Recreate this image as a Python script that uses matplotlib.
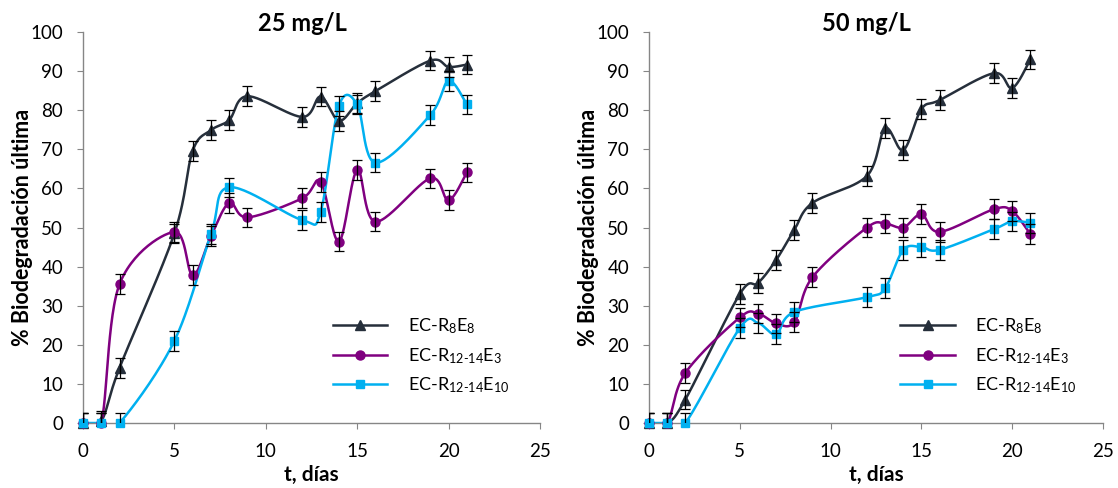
import numpy as np
import matplotlib
matplotlib.use("Agg")
import matplotlib.pyplot as plt
from matplotlib.lines import Line2D

plt.rcParams["font.family"] = ["Lato", "DejaVu Sans"]
plt.rcParams["mathtext.fontset"] = "custom"
plt.rcParams["mathtext.rm"] = "Lato"
plt.rcParams["mathtext.it"] = "Lato"
plt.rcParams["mathtext.bf"] = "Lato:bold"

# --- data ---
t_days = [0, 1, 2, 5, 6, 7, 8, 9, 12, 13, 14, 15, 16, 19, 20, 21]

# 25 mg/L
r8e8_25 = [0, 0.5, 14.1, 48.5, 69.6, 74.9, 77.5, 83.6, 78.3, 83.5, 77.3, 81.8, 84.9, 92.7, 91.1, 91.7]
e3_25 = [0, 0, 35.5, 48.9, 37.8, 47.8, 56.3, 52.6, 57.5, 61.7, 46.4, 64.7, 51.5, 62.6, 57.0, 64.1]
t_e10_25 = [0, 1, 2, 5, 7, 8, 12, 13, 14, 15, 16, 19, 20, 21]
e10_25 = [0, 0, 0, 21.0, 48.3, 60.3, 51.9, 54.0, 81.1, 81.5, 66.6, 78.8, 87.5, 81.5]

# 50 mg/L
r8e8_50 = [0, 0, 6.0, 33.0, 35.8, 41.7, 49.4, 56.3, 63.2, 75.4, 69.8, 80.3, 82.6, 89.5, 85.7, 93.0]
e3_50 = [0, 0, 12.8, 27.0, 28.0, 25.5, 25.8, 37.3, 50.0, 51.0, 50.0, 53.4, 48.9, 54.7, 54.2, 48.3]
t_e10_50 = [0, 1, 2, 5, 6, 7, 8, 12, 13, 14, 15, 16, 19, 20, 21]
e10_50 = [0, 0, 0, 24.3, 25.6, 22.7, 28.4, 32.2, 34.5, 44.3, 45.0, 44.3, 49.6, 51.6, 51.2]

err = 2.5

C_BLACK = "#262f3b"
C_PURPLE = "#800080"
C_CYAN = "#00b0f0"

labels = [r"EC-R$_{8}$E$_{8}$",
          r"EC-R$_{12\text{-}14}$E$_{3}$",
          r"EC-R$_{12\text{-}14}$E$_{10}$"]


def smooth(x, y, n=30):
    """Excel-style smoothed line (cardinal bezier through the points)."""
    pts = np.column_stack([np.asarray(x, float), np.asarray(y, float)])
    out = []
    t = np.linspace(0, 1, n)[:, None]
    for i in range(len(pts) - 1):
        p0 = pts[i - 1] if i > 0 else pts[i]
        p1 = pts[i]
        p2 = pts[i + 1]
        p3 = pts[i + 2] if i + 2 < len(pts) else pts[i + 1]
        c1 = p1 + (p2 - p0) / 6
        c2 = p2 - (p3 - p1) / 6
        out.append((1 - t) ** 3 * p1 + 3 * (1 - t) ** 2 * t * c1
                   + 3 * (1 - t) * t ** 2 * c2 + t ** 3 * p2)
    s = np.vstack(out)
    return s[:, 0], s[:, 1]


def draw_series(ax, x, y, color, marker, ms, skip=()):
    sx, sy = smooth(x, y)
    ax.plot(sx, sy, color=color, lw=1.8, zorder=2)
    keep = [i for i in range(len(x)) if x[i] not in skip]
    ax.plot([x[i] for i in keep], [y[i] for i in keep], ls="none", marker=marker,
            ms=ms, color=color, zorder=3, clip_on=False)
    ax.errorbar(x, y, yerr=err, fmt="none", ecolor="black", elinewidth=0.9,
                capsize=3.5, capthick=0.9, zorder=4)


def style_axes(ax, title):
    ax.set_xlim(0, 25)
    ax.set_ylim(0, 100)
    ax.set_xticks(range(0, 26, 5))
    ax.set_yticks(range(0, 101, 10))
    for s in ("top", "right"):
        ax.spines[s].set_visible(False)
    for s in ("left", "bottom"):
        ax.spines[s].set_color("#868686")
        ax.spines[s].set_linewidth(1.0)
    ax.tick_params(direction="out", length=4.3, color="#868686", labelsize=13.5)
    ax.tick_params(axis="y", pad=10)
    ax.tick_params(axis="x", pad=10)
    ax.text(0.48, 1.003, title, transform=ax.transAxes, ha="center", va="baseline",
            fontsize=17, fontweight="bold")
    ax.set_xlabel("t, días", fontsize=15, fontweight="bold", labelpad=4)
    ax.set_ylabel("% Biodegradación última", fontsize=15.5, fontweight="bold")
    ax.yaxis.set_label_coords(-0.11, 0.5)


fig = plt.figure(figsize=(11.18, 4.88), dpi=100)
ax1 = fig.add_axes([0.0742, 0.1332, 0.4088, 0.801])
ax2 = fig.add_axes([0.5805, 0.1332, 0.4061, 0.801])

draw_series(ax1, t_days, r8e8_25, C_BLACK, "^", 6.5)
draw_series(ax1, t_days, e3_25, C_PURPLE, "o", 6.5)
draw_series(ax1, t_e10_25, e10_25, C_CYAN, "s", 6)
style_axes(ax1, "25 mg/L")

draw_series(ax2, t_days, r8e8_50, C_BLACK, "^", 6.5)
draw_series(ax2, t_days, e3_50, C_PURPLE, "o", 6.5)
draw_series(ax2, t_e10_50, e10_50, C_CYAN, "s", 6, skip=(6,))
style_axes(ax2, "50 mg/L")

handles = [Line2D([], [], color=C_BLACK, lw=1.8, marker="^", ms=6.5),
           Line2D([], [], color=C_PURPLE, lw=1.8, marker="o", ms=6.5),
           Line2D([], [], color=C_CYAN, lw=1.8, marker="s", ms=6)]
for ax, x0 in ((ax1, 0.512), (ax2, 0.518)):
    ax.legend(handles, labels, loc="center left", bbox_to_anchor=(x0, 0.172),
              frameon=False, fontsize=13, handlelength=3.0, handletextpad=1.15,
              labelspacing=0.55)

fig.savefig("out.png", dpi=100)
